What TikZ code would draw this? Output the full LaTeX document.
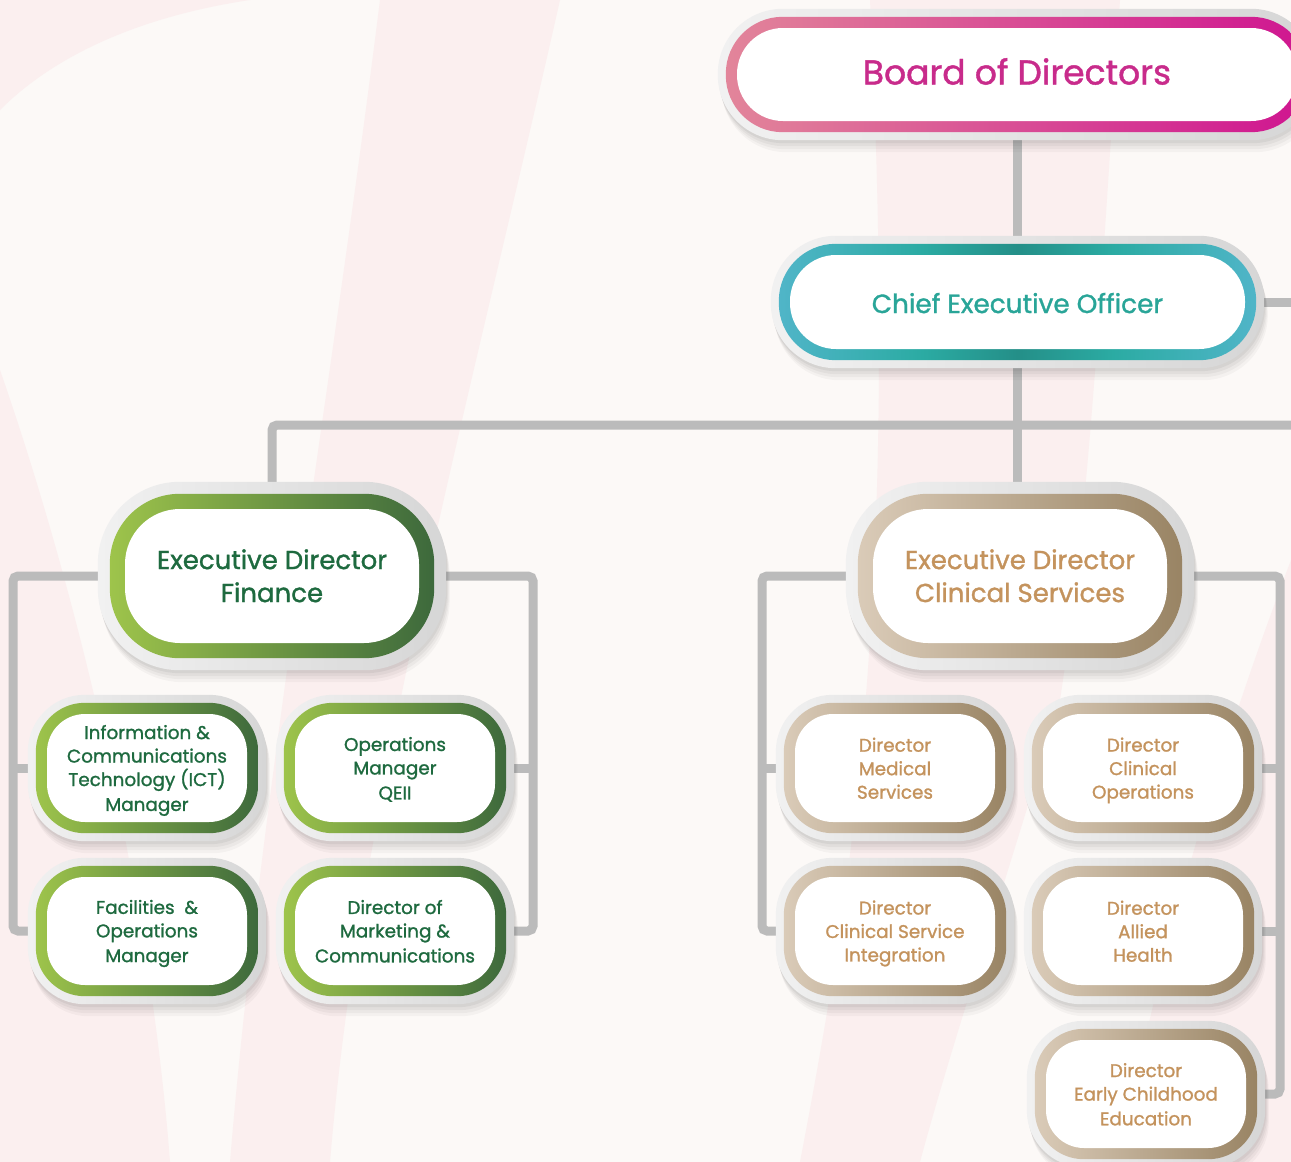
\documentclass[tikz,border=0pt]{standalone}
\usepackage{fontspec}
\setmainfont{Poppins}[FakeBold=1.2]
\usetikzlibrary{calc}
\definecolor{bgc}{HTML}{FCF9F7}
\definecolor{bgpink}{HTML}{FBEFEF}
\definecolor{connc}{HTML}{BBBBBB}
\definecolor{frL}{HTML}{F1F1F1}
\definecolor{frR}{HTML}{D6D6D6}
\definecolor{bdL}{HTML}{E2859A}
\definecolor{bdR}{HTML}{CF1590}
\definecolor{bdT}{HTML}{C82B8B}
\definecolor{ceL}{HTML}{50B5C8}
\definecolor{ceM}{HTML}{2BABA3}
\definecolor{ceD}{HTML}{248F88}
\definecolor{ceT}{HTML}{29A598}
\definecolor{gnL}{HTML}{9EC44B}
\definecolor{gnR}{HTML}{3D693C}
\definecolor{gnT}{HTML}{1E6A3F}
\definecolor{tnL}{HTML}{DACBB8}
\definecolor{tnR}{HTML}{998464}
\definecolor{tnT}{HTML}{C4935D}
\pgfdeclarehorizontalshading{frsh}{100bp}{color(0bp)=(frL); color(25bp)=(frL); color(75bp)=(frR); color(100bp)=(frR)}
\pgfdeclarehorizontalshading{bdsh}{100bp}{color(0bp)=(bdL); color(25bp)=(bdL); color(75bp)=(bdR); color(100bp)=(bdR)}
\pgfdeclarehorizontalshading{cesh}{100bp}{color(0bp)=(ceL); color(25bp)=(ceL); color(40bp)=(ceM); color(50bp)=(ceD); color(60bp)=(ceM); color(75bp)=(ceL); color(100bp)=(ceL)}
\pgfdeclarehorizontalshading{gnsh}{100bp}{color(0bp)=(gnL); color(25bp)=(gnL); color(75bp)=(gnR); color(100bp)=(gnR)}
\pgfdeclarehorizontalshading{tnsh}{100bp}{color(0bp)=(tnL); color(25bp)=(tnL); color(75bp)=(tnR); color(100bp)=(tnR)}
\pgfdeclarelayer{bgl}
\pgfdeclarelayer{conl}
\pgfdeclarelayer{frl}
\pgfdeclarelayer{rgl}
\pgfsetlayers{bgl,conl,frl,rgl,main}
% strut whose height fraction is set by the box style (\hf)
\newcommand\st{\vrule height \hf\baselineskip depth \dimexpr\baselineskip-\hf\baselineskip\relax width 0pt\relax}
% #1 name, #2 white radius, #3 ring width, #4 frame width, #5 shading
\newcommand\boxdecor[5]{%
\begin{pgfonlayer}{frl}
 \foreach \k/\o in {3/0.05,6/0.04,9/0.035,12/0.03}{
   \fill[black,opacity=\o,rounded corners={(#2+#3+#4)*1pt}]
     ($(#1.south west)+({-(#3+#4)*1pt+0.3*\k*1pt},{-(#3+#4)*1pt-\k*1pt})$) rectangle
     ($(#1.north east)+({(#3+#4)*1pt+0.3*\k*1pt},{(#3+#4)*1pt-\k*1pt})$);}
 \shade[shading=frsh,rounded corners={(#2+#3+#4)*1pt}]
     ($(#1.south west)+({-(#3+#4)*1pt},{-(#3+#4)*1pt})$) rectangle
     ($(#1.north east)+({(#3+#4)*1pt},{(#3+#4)*1pt})$);
\end{pgfonlayer}
\begin{pgfonlayer}{rgl}
 \shade[shading=#5,rounded corners={(#2+#3)*1pt}]
     ($(#1.south west)+({-#3*1pt},{-#3*1pt})$) rectangle
     ($(#1.north east)+({#3*1pt},{#3*1pt})$);
\end{pgfonlayer}}
\tikzset{
  base/.style={inner sep=0pt, fill=white, align=center},
  pillbd/.style={base, minimum width=560pt, minimum height=93pt, rounded corners=46pt, text=bdT, font=\fontsize{34.5}{40}\selectfont\def\hf{0.75}},
  pillce/.style={base, minimum width=455pt, minimum height=94pt, rounded corners=46pt, text=ceT, font=\fontsize{26.3}{30}\selectfont\def\hf{0.867}},
  edbox/.style={base, minimum width=294pt, minimum height=134pt, rounded corners=55pt, font=\fontsize{26}{33}\selectfont\def\hf{0.79}},
  smbox/.style={base, minimum width=200pt, minimum height=108pt, rounded corners=38pt, font=\fontsize{18.4}{23.5}\selectfont\def\hf{0.806}},
  gn/.style={text=gnT},
  tn/.style={text=tnT},
  conn/.style={draw=connc, line width=9pt},
}
\begin{document}
\begin{tikzpicture}[x=1pt,y=-1pt]
\useasboundingbox (0,0) rectangle (1291,1162);
\begin{pgfonlayer}{bgl}
 \fill[bgc] (0,0) rectangle (1291,1162);
 \fill[bgpink] (0,0) -- (250,0) .. controls (150,15) and (60,50) .. (0,110) -- cycle;
 \fill[bgpink] (380,0) -- (560,0) .. controls (470,400) and (360,800) .. (330,1162) -- (230,1162) .. controls (260,800) and (330,400) .. (380,0) -- cycle;
 \fill[bgpink] (0,370) .. controls (80,600) and (150,900) .. (170,1162) -- (0,1162) -- cycle;
 \fill[bgpink] (870,0) -- (1120,0) .. controls (1100,300) and (1090,500) .. (1060,700) .. controls (1000,900) and (950,1050) .. (920,1162) -- (800,1162) .. controls (850,900) and (900,600) .. (870,0) -- cycle;
 \fill[bgpink] (1291,560) .. controls (1200,800) and (1150,1000) .. (1120,1162) -- (1291,1162) -- cycle;
\end{pgfonlayer}

\node[pillbd] (board) at (1017,74.5) {\st Board of Directors};
\node[pillce] (ceo) at (1017.5,302) {\st Chief Executive Officer};
\node[edbox,gn] (edf) at (272,576) {\st Executive Director\\Finance\st};
\node[edbox,tn] (edc) at (1020,576) {\st Executive Director\\Clinical Services\st};

\node[smbox,gn] (ict) at (147,768) {\st Information \&\\Communications\\Technology (ICT)\\Manager\st};
\node[smbox,gn] (qeii) at (395,768) {\st Operations\\Manager\\QEII\st};
\node[smbox,gn] (fac) at (147,931) {\st Facilities\ \ \&\\Operations\\Manager\st};
\node[smbox,gn] (mkt) at (395,931) {\st Director of\\Marketing \&\\Communications\st};

\node[smbox,tn] (med) at (895,768) {\st Director\\Medical\\Services\st};
\node[smbox,tn] (cops) at (1143,768) {\st Director\\Clinical\\Operations\st};
\node[smbox,tn] (csi) at (895,931) {\st Director\\Clinical Service\\Integration\st};
\node[smbox,tn] (allied) at (1143,931) {\st Director\\Allied\\Health\st};
\node[smbox,tn] (early) at (1146,1094) {\st Director\\Early Childhood\\Education\st};

\boxdecor{board}{46}{11}{8}{bdsh}
\boxdecor{ceo}{46}{11}{8}{cesh}
\boxdecor{edf}{55}{15}{12}{gnsh}
\boxdecor{edc}{55}{15}{12}{tnsh}
\foreach \n in {ict,qeii,fac,mkt}{\boxdecor{\n}{38}{11}{8}{gnsh}}
\foreach \n in {med,cops,csi,allied,early}{\boxdecor{\n}{38}{11}{8}{tnsh}}

\coordinate (rE) at (1300,0);
\coordinate (bus) at (0,425);
\coordinate (fL) at (13,0);
\coordinate (fR) at (533,0);
\coordinate (cL) at (762,0);
\coordinate (cR) at (1280,0);
\begin{pgfonlayer}{conl}
 \draw[conn] (board.south) -- (board.south |- ceo.north);
 \draw[conn] (ceo.east) -- (ceo.east -| rE);
 \draw[conn] (ceo.south) -- (ceo.south |- edc.north);
 \draw[conn, rounded corners=5pt] (edf.north) |- (bus -| rE);
 \draw[conn, rounded corners=5pt] (edf.west) -| (fL |- fac.west) -- (fac.west);
 \draw[conn] (fL |- ict.west) -- (ict.west);
 \draw[conn, rounded corners=5pt] (edf.east) -| (fR |- mkt.east) -- (mkt.east);
 \draw[conn] (fR |- qeii.east) -- (qeii.east);
 \draw[conn, rounded corners=5pt] (edc.west) -| (cL |- csi.west) -- (csi.west);
 \draw[conn] (cL |- med.west) -- (med.west);
 \draw[conn, rounded corners=5pt] (edc.east) -| (cR |- early.east) -- (early.east);
 \draw[conn] (cR |- cops.east) -- (cops.east);
 \draw[conn] (cR |- allied.east) -- (allied.east);
\end{pgfonlayer}
\end{tikzpicture}
\end{document}
